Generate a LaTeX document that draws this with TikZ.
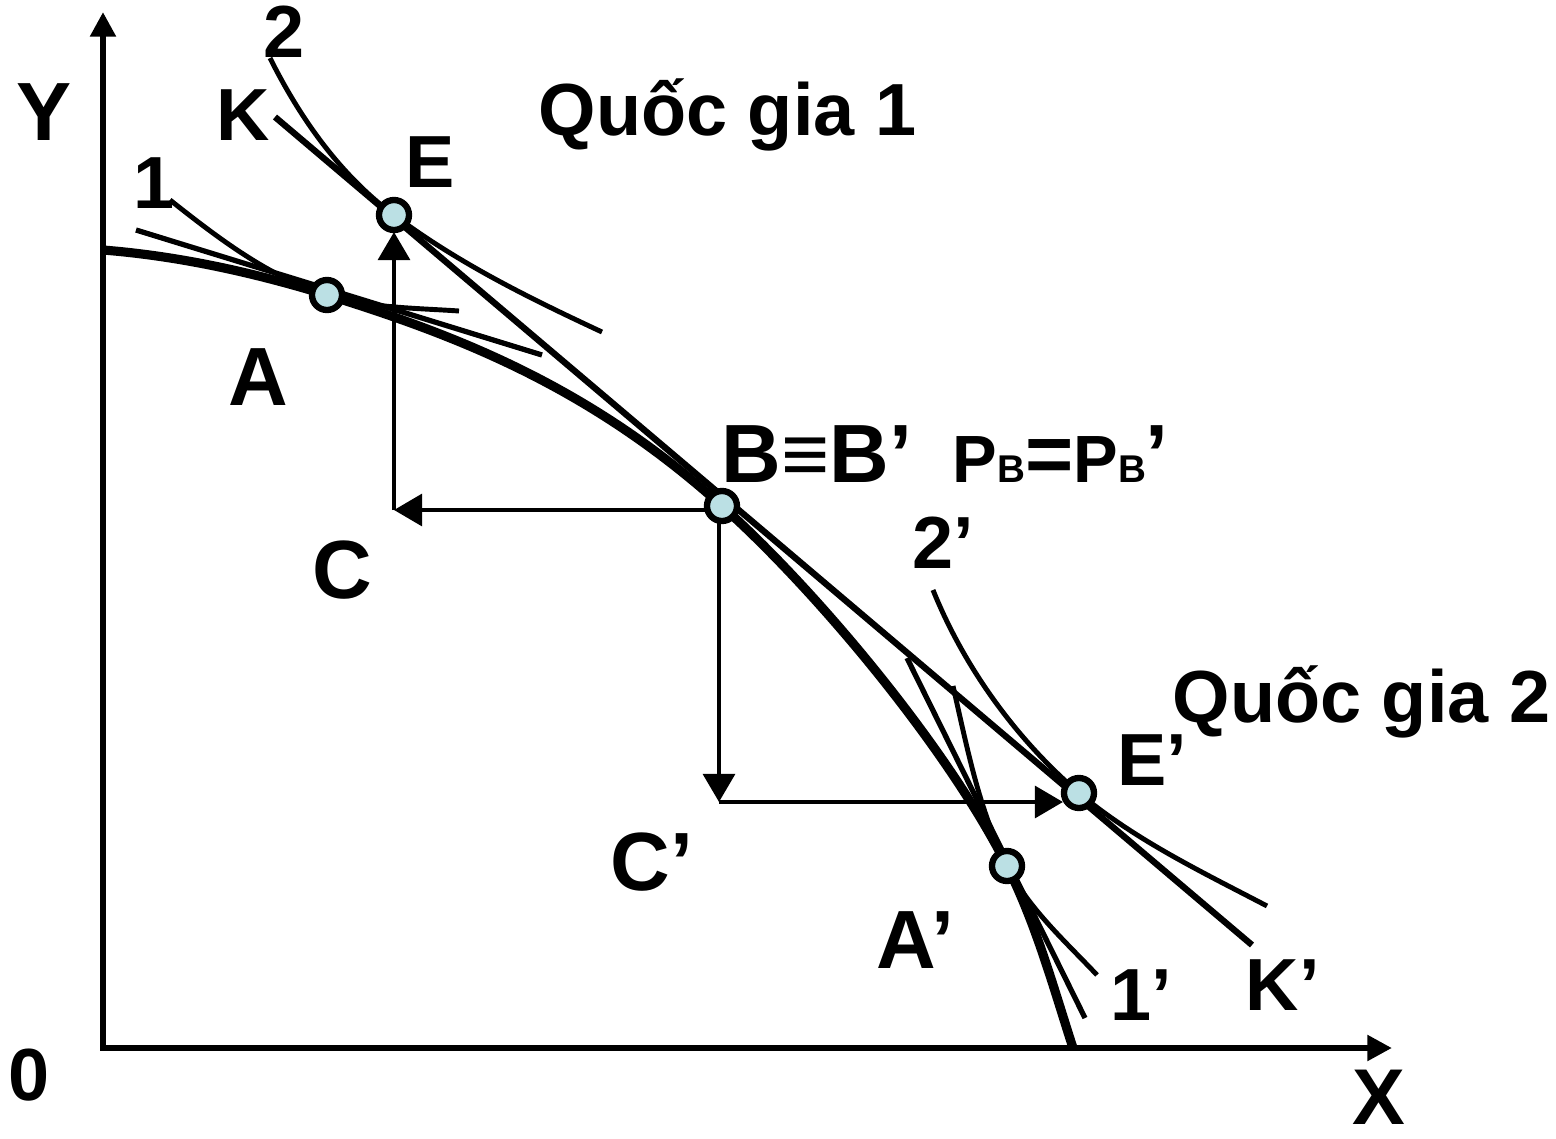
\documentclass[tikz,border=0pt]{standalone}
\usepackage{fontspec}
\setmainfont{Liberation Sans}
\usetikzlibrary{arrows.meta}
\definecolor{ptfill}{RGB}{187,224,228}
\begin{document}
\begin{tikzpicture}[x=0.01cm,y=-0.01cm,
  pt/.style={circle,draw=black,line width=1.8pt,fill=ptfill,minimum size=0.30cm,inner sep=0pt},
  lbig/.style={anchor=base west,inner sep=0pt,font=\fontsize{23.5}{28}\selectfont\bfseries},
  lsm/.style={anchor=base west,inner sep=0pt,font=\fontsize{21}{25}\selectfont\bfseries},
  axisline/.style={line width=1.9pt,{Triangle[length=7pt,width=7pt]}-{Triangle[length=7pt,width=7pt]}},
  ppf/.style={line width=2.6pt},
  kline/.style={line width=1.8pt},
  tline/.style={line width=1.5pt},
  icurve/.style={line width=1.4pt},
  arr/.style={line width=1.3pt,-{Triangle[length=8pt,width=9pt]}},
]
\useasboundingbox (0,0) rectangle (1556,1139);

% axes
\coordinate (O) at (103,1048);
\coordinate (Ytop) at (103,12);
\coordinate (Xend) at (1392,1048);
\draw[axisline] (Ytop) -- (O) -- (Xend);

% production possibility frontier
\coordinate (P0) at (103,250);
\coordinate (PA) at (327,295);
\coordinate (PB) at (722,506);
\coordinate (PAp) at (1007,866);
\coordinate (PX) at (1073,1048);
\draw[ppf] (P0) .. controls (178,256) and (252,272) .. (PA)
  .. controls (459,336) and (590,387) .. (PB)
  .. controls (819,593) and (949,750) .. (PAp)
  .. controls (1036,924) and (1053,986) .. (PX);

% price line K-K'
\coordinate (K1) at (275,117);
\coordinate (K2) at (1252,945);
\draw[kline] (K1) -- (K2);

% tangent at A and at A'
\coordinate (TA1) at (136,230);
\coordinate (TA2) at (542,355);
\draw[tline] (TA1) -- (TA2);
\coordinate (TB1) at (907,658);
\coordinate (TB2) at (1085,1018);
\draw[tline] (TB1) -- (TB2);

% indifference curves
\draw[icurve] (170,200) .. controls (218,238) and (269,277) .. (327,295)
  .. controls (369,308) and (415,308) .. (459,311);
\draw[icurve] (270,58) .. controls (300,118) and (340,175) .. (394,215)
  .. controls (458,263) and (529,298) .. (602,332);
\draw[icurve] (933,590) .. controls (964,667) and (1016,739) .. (1079,793)
  .. controls (1135,840) and (1202,872) .. (1267,906);
\draw[icurve] (953,686) .. controls (967,747) and (979,810) .. (1007,866)
  .. controls (1028,908) and (1065,941) .. (1097,975);

% trade arrows
\coordinate (Bh) at (719,510);
\coordinate (C) at (394,510);
\coordinate (Ctop) at (394,232);
\coordinate (Cp) at (719,802);
\coordinate (Cpend) at (1063,802);
\draw[arr] (Bh) -- (C);
\draw[arr] (C) -- (Ctop);
\draw[arr] (Bh) -- (Cp);
\draw[arr] (Cp) -- (Cpend);

% points
\node[pt] (A) at (327,295) {};
\node[pt] (E) at (394,215) {};
\node[pt] (B) at (722,506) {};
\node[pt] (Ep) at (1079,793) {};
\node[pt] (Ap) at (1007,866) {};

% labels
\node[lbig] (lY) at (16,140) {Y};
\node[lsm] (l2) at (263,57) {2};
\node[lsm] (lK) at (216,140) {K};
\node[lsm] (l1) at (133,208) {1};
\node[lsm] (lE) at (405,187) {E};
\node[lsm] (lQ1) at (538,135) {Quốc gia 1};
\node[lbig] (lA) at (228,405) {A};
\node[lbig] (lBB) at (721,482) {B≡B’};
\node[anchor=base west,inner sep=0pt,font=\bfseries] (lP) at (952,482) {\fontsize{19}{22}\selectfont P\fontsize{11}{13}\selectfont B\fontsize{23.5}{28}\selectfont =\fontsize{19}{22}\selectfont P\fontsize{11}{13}\selectfont B\fontsize{23.5}{28}\selectfont ’};
\node[lbig] (lC) at (312,598) {C};
\node[lsm] (l2p) at (912,568) {2’};
\node[lsm] (lQ2) at (1172,722) {Quốc gia 2};
\node[lsm] (lEp) at (1117,785) {E’};
\node[lbig] (lCp) at (610,890) {C’};
\node[lbig] (lAp) at (876,968) {A’};
\node[lsm] (l1p) at (1110,1020) {1’};
\node[lsm] (lKp) at (1245,1010) {K’};
\node[lsm] (l0) at (8,1100) {0};
\node[anchor=base west,inner sep=0pt,font=\fontsize{22.5}{27}\selectfont\bfseries] (lX) at (1352,1124) {X};
\end{tikzpicture}
\end{document}
